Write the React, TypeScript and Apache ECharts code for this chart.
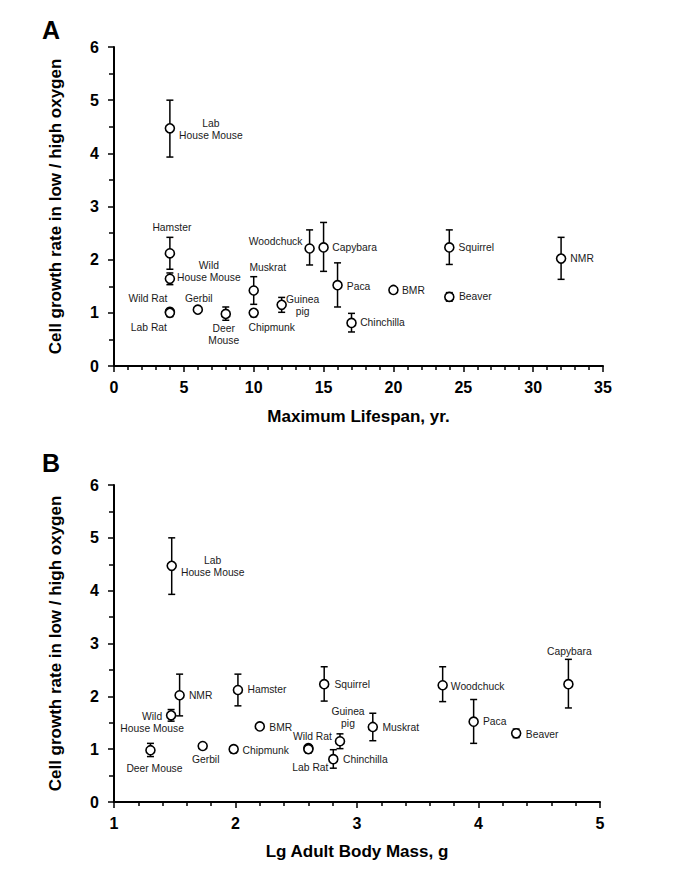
import React, { useEffect, useRef } from "react";
import * as echarts from "echarts";

const species = [
  "Lab House Mouse", "Hamster", "Wild House Mouse", "Wild Rat", "Lab Rat", "Gerbil",
  "Deer Mouse", "Muskrat", "Chipmunk", "Guinea pig", "Woodchuck", "Capybara",
  "Paca", "Chinchilla", "BMR", "Squirrel", "Beaver", "NMR",
];
const maxLifespan = [4, 4, 4, 4, 4, 6, 8, 10, 10, 12, 14, 15, 16, 17, 20, 24, 24, 32];
const lgBodyMass = [1.475, 2.02, 1.47, 2.6, 2.6, 1.73, 1.3, 3.13, 1.985, 2.86, 3.705, 4.74, 3.96, 2.805, 2.2, 2.73, 4.31, 1.54];
const growthRatio = [4.47, 2.12, 1.64, 1.02, 1.0, 1.06, 0.98, 1.42, 1.0, 1.15, 2.21, 2.23, 1.52, 0.81, 1.43, 2.23, 1.3, 2.02];
const errLower = [3.93, 1.82, 1.53, 0.94, 0.93, 1.03, 0.86, 1.16, 0.93, 1.01, 1.9, 1.78, 1.11, 0.64, 1.41, 1.91, 1.22, 1.63];
const errUpper = [5.0, 2.42, 1.75, 1.08, 1.06, 1.09, 1.11, 1.68, 1.06, 1.29, 2.56, 2.7, 1.94, 0.99, 1.45, 2.56, 1.38, 2.42];

const yTicks = [0, 1, 2, 3, 4, 5, 6];
const xTicksA = [0, 5, 10, 15, 20, 25, 30, 35];
const xTicksB = [1, 2, 3, 4, 5];

const labelTextA: Record<string, string> = {
  "Lab House Mouse": "Lab\nHouse Mouse",
  "Wild House Mouse": "Wild\nHouse Mouse",
  "Deer Mouse": "Deer\nMouse",
  "Guinea pig": "Guinea\npig",
};
const labelTextB: Record<string, string> = {
  "Lab House Mouse": "Lab\nHouse Mouse",
  "Wild House Mouse": "Wild\nHouse Mouse",
  "Guinea pig": "Guinea\npig",
};

// label placement (pixel offsets from the marker centre)
const labelOffsetA: Record<string, number[]> = {
  "Lab House Mouse": [41, 1], Hamster: [2, -26], "Wild House Mouse": [39, -7],
  "Wild Rat": [-22, -13], "Lab Rat": [-21, 15], Gerbil: [1, -11], "Deer Mouse": [-2, 21],
  Muskrat: [14, -23], Chipmunk: [18, 15], "Guinea pig": [21, 1], Woodchuck: [-34, -7],
  Capybara: [31, 0], Paca: [21, 1], Chinchilla: [31, 0], BMR: [20, 1], Squirrel: [27, 0],
  Beaver: [26, 0], NMR: [21, 0],
};
const labelOffsetB: Record<string, number[]> = {
  "Lab House Mouse": [41, 1], NMR: [21, 0], "Wild House Mouse": [-19, 7], Hamster: [29, 0],
  BMR: [21, 1], "Deer Mouse": [4, 18], Gerbil: [3, 14], Chipmunk: [32, 1], "Wild Rat": [4, -12],
  "Lab Rat": [2, 18], Squirrel: [28, 0], "Guinea pig": [8, -24], Chinchilla: [32, 0],
  Muskrat: [28, 1], Woodchuck: [35, 1], Paca: [21, 0], Beaver: [26, 1], Capybara: [1, -33],
};

const FONT = '"Liberation Sans", Arial, sans-serif';

function yAxisCfg(gridIndex: number) {
  return {
    type: "value",
    gridIndex,
    min: 0,
    max: 6,
    interval: 1,
    name: "Cell growth rate in low / high oxygen",
    nameLocation: "middle",
    nameGap: 50,
    nameTextStyle: { fontFamily: FONT, fontSize: 17, fontWeight: "bold", color: "#000" },
    axisLine: { show: true, lineStyle: { color: "#000", width: 2 } },
    axisTick: { show: true, length: 6, lineStyle: { color: "#000", width: 1.5 } },
    minorTick: { show: true, splitNumber: 2, length: 5, lineStyle: { color: "#000", width: 1.5 } },
    splitLine: { show: false },
    axisLabel: {
      margin: 15,
      fontFamily: FONT,
      fontSize: 16,
      fontWeight: "bold",
      color: "#000",
      formatter: (v: number) => (yTicks.includes(v) ? String(v) : ""),
    },
  };
}

function xAxisCfg(gridIndex: number, min: number, max: number, interval: number, name: string, ticks: number[], gap: number) {
  return {
    type: "value",
    gridIndex,
    min,
    max,
    interval,
    name,
    nameLocation: "middle",
    nameGap: gap,
    nameTextStyle: { fontFamily: FONT, fontSize: 17, fontWeight: "bold", color: "#000" },
    axisLine: { show: true, onZero: false, lineStyle: { color: "#000", width: 2 } },
    axisTick: { show: true, length: 6, lineStyle: { color: "#000", width: 1.5 } },
    minorTick: { show: true, splitNumber: 5, length: 4, lineStyle: { color: "#000", width: 1.5 } },
    splitLine: { show: false },
    axisLabel: {
      margin: 13,
      fontFamily: FONT,
      fontSize: 16,
      fontWeight: "bold",
      color: "#000",
      formatter: (v: number) => (ticks.includes(v) ? String(v) : ""),
    },
  };
}

function errorSeries(axisIndex: number, xs: number[]) {
  return {
    type: "custom",
    xAxisIndex: axisIndex,
    yAxisIndex: axisIndex,
    z: 2,
    silent: true,
    data: xs.map((x, i) => [x, errLower[i], errUpper[i]]),
    renderItem: (params: any, api: any) => {
      const x = api.value(0);
      const lo = api.coord([x, api.value(1)]);
      const hi = api.coord([x, api.value(2)]);
      const cap = 3.5;
      const style = { stroke: "#000", lineWidth: 1.5 };
      return {
        type: "group",
        children: [
          { type: "line", shape: { x1: lo[0], y1: lo[1], x2: hi[0], y2: hi[1] }, style },
          { type: "line", shape: { x1: lo[0] - cap, y1: lo[1], x2: lo[0] + cap, y2: lo[1] }, style },
          { type: "line", shape: { x1: hi[0] - cap, y1: hi[1], x2: hi[0] + cap, y2: hi[1] }, style },
        ],
      };
    },
  };
}

function pointSeries(axisIndex: number, xs: number[], texts: Record<string, string>, offsets: Record<string, number[]>) {
  return {
    type: "scatter",
    xAxisIndex: axisIndex,
    yAxisIndex: axisIndex,
    z: 5,
    symbol: "circle",
    symbolSize: 9,
    itemStyle: { color: "#fff", borderColor: "#000", borderWidth: 1.6, opacity: 1 },
    label: {
      show: true,
      position: "inside",
      fontFamily: FONT,
      fontSize: 10.3,
      lineHeight: 12,
      color: "#1a1a1a",
      textBorderWidth: 0,
      align: "center",
      verticalAlign: "middle",
      formatter: (p: any) => texts[species[p.dataIndex]] || species[p.dataIndex],
    },
    labelLayout: (p: any) => {
      const off = offsets[species[p.dataIndex]] || [0, 0];
      return { dx: off[0], dy: off[1], hideOverlap: false };
    },
    data: xs.map((x, i) => ({ name: species[i], value: [x, growthRatio[i]] })),
  };
}

export default function App() {
  const ref = useRef<HTMLDivElement>(null);
  useEffect(() => {
    if (!ref.current) return;
    const chart = echarts.init(ref.current, null, { renderer: "svg" });
    chart.setOption({
      animation: false,
      backgroundColor: "#fff",
      title: [
        { text: "A", left: 37, top: 12, textStyle: { fontFamily: FONT, fontSize: 25, fontWeight: "bold", color: "#000" } },
        { text: "B", left: 37, top: 445, textStyle: { fontFamily: FONT, fontSize: 25, fontWeight: "bold", color: "#000" } },
      ],
      grid: [
        { left: 114, top: 47, width: 489, height: 319 },
        { left: 114, top: 485, width: 486, height: 317 },
      ],
      xAxis: [
        xAxisCfg(0, 0, 35, 5, "Maximum Lifespan, yr.", xTicksA, 42),
        xAxisCfg(1, 1, 5, 1, "Lg Adult Body Mass, g", xTicksB, 41),
      ],
      yAxis: [yAxisCfg(0), yAxisCfg(1)],
      series: [
        errorSeries(0, maxLifespan),
        pointSeries(0, maxLifespan, labelTextA, labelOffsetA),
        errorSeries(1, lgBodyMass),
        pointSeries(1, lgBodyMass, labelTextB, labelOffsetB),
      ],
    });
    return () => chart.dispose();
  }, []);
  return (
    <div
      ref={ref}
      style={{ position: "fixed", left: 0, top: 0, width: 675, height: 878, background: "#fff" }}
    />
  );
}
